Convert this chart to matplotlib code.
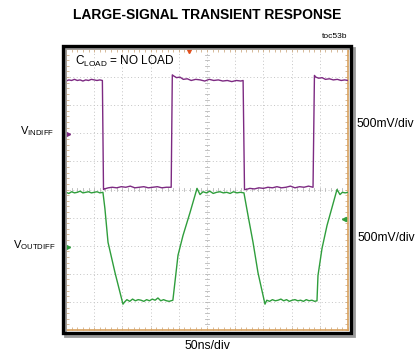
import matplotlib
matplotlib.use('Agg')
import matplotlib.pyplot as plt
from matplotlib.patches import Rectangle
import numpy as np

OUTPUT_IMAGE = 'out.png'
PLOT_TITLE = 'LARGE-SIGNAL TRANSIENT RESPONSE'

# --- Data (time in ns, screen voltage in V, 500mV/div, 50ns/div) ---
vin_t = [0, 5, 10, 15, 20, 25, 30, 35, 40, 45, 50, 55, 60, 64.5,
         66.5,
         68, 75, 82, 90, 98, 106, 114, 122, 130, 138, 146, 154, 162, 170, 178, 186.5,
         188.5,
         191, 196, 202, 208, 215, 222, 230, 238, 246, 254, 262, 270, 278, 286, 294, 302, 310, 314,
         316.5,
         319, 326, 334, 342, 350, 358, 366, 374, 382, 390, 398, 406, 414, 422, 430, 438,
         440.5,
         443, 448, 454, 460, 467, 474, 481, 488, 494, 500]
vin_v = [1.93, 1.95, 1.94, 1.96, 1.94, 1.95, 1.93, 1.95, 1.94, 1.96, 1.95, 1.94, 1.95, 1.94,
         0.0,
         0.01, 0.03, 0.04, 0.03, 0.05, 0.04, 0.06, 0.03, 0.04, 0.05, 0.03, 0.04, 0.05, 0.03, 0.04, 0.04,
         2.04,
         2.02, 1.99, 2.0, 1.96, 1.97, 1.94, 1.96, 1.95, 1.93, 1.96, 1.94, 1.95, 1.93, 1.94, 1.92, 1.94, 1.93, 1.94,
         0.0,
         0.0, 0.02, 0.01, 0.03, 0.02, 0.04, 0.03, 0.05, 0.03, 0.04, 0.06, 0.03, 0.05, 0.04, 0.06, 0.04,
         2.03,
         2.0, 1.98, 1.99, 1.96, 1.97, 1.95, 1.96, 1.94, 1.95, 1.94]

vout_t = [0, 5, 10, 15, 20, 25, 30, 35, 40, 45, 50, 55, 60, 65.5,
          69, 74.5, 86.9, 101,
          104, 108, 113, 118, 123, 128, 133, 138, 143, 148, 153, 158, 163, 168, 173, 178, 183, 189.5,
          198.6, 207.4, 219.9, 232.3,
          237.6, 243, 249, 255, 261, 267, 273, 279, 285, 291, 297, 303, 309, 315.5,
          322.7, 331.6, 340.4, 352.8,
          356, 361, 366, 371, 376, 381, 386, 391, 396, 401, 406, 411, 416, 421, 426, 431, 436, 441, 445,
          446.8, 453.9, 462.8, 480.5,
          485.8, 490, 495, 500]
vout_v = [-0.05, -0.07, -0.04, -0.06, -0.05, -0.03, -0.06, -0.05, -0.04, -0.06, -0.05, -0.04, -0.06, -0.05,
          -0.34, -0.94, -1.48, -2.04,
          -2.0, -1.96, -1.99, -1.95, -1.98, -1.96, -1.97, -1.99, -1.96, -1.98, -1.95, -1.97, -1.93, -1.98, -1.96, -1.98, -1.99, -1.97,
          -1.17, -0.82, -0.41, 0.02,
          -0.09, -0.04, -0.06, -0.03, -0.07, -0.05, -0.04, -0.06, -0.05, -0.07, -0.04, -0.06, -0.05, -0.06,
          -0.46, -0.94, -1.48, -2.04,
          -1.97, -1.99, -1.96, -1.98, -1.97, -1.95, -1.98, -1.96, -1.99, -1.97, -1.96, -1.98, -1.97, -1.99, -1.96, -1.98, -1.97, -1.99, -1.98,
          -1.53, -1.05, -0.64, 0.0,
          -0.09, -0.05, -0.06, -0.05]

# channel ground markers and trigger position
vin_marker = 0.98
vout_marker = -1.03
vout_marker_right = -0.52
trigger_t = 218

PURPLE = '#7d2a82'
GREEN = '#2f9e3c'
FRAME = '#d8a15e'

plt.rcParams['font.family'] = ['Liberation Sans Narrow', 'Liberation Sans', 'DejaVu Sans']
plt.rcParams['mathtext.fontset'] = 'custom'
plt.rcParams['mathtext.rm'] = 'Liberation Sans'

fig = plt.figure(figsize=(4.15, 3.56), dpi=100)
W, H = 415, 356
# plot area in pixels: x 66..348, y 49..330
ax = fig.add_axes([66 / W, 1 - 330 / H, 282 / W, 281 / H])

ax.set_xlim(0, 500)
ax.set_ylim(-2.5, 2.5)

# --- Grid (10 x 10 divisions) ---
for xv in np.arange(50, 500, 50):
    ax.axvline(xv, color='#c4c4c4', lw=0.7, ls=(0, (1, 2.5)), zorder=1)
for yv in np.arange(-2.0, 2.5, 0.5):
    ax.axhline(yv, color='#c4c4c4', lw=0.7, ls=(0, (1, 2.5)), zorder=1)
# minor ticks on the center cross
for xv in np.arange(0, 500, 10):
    ax.plot([xv, xv], [-0.03, 0.03], color='#b8b8b8', lw=0.6, zorder=1)
for yv in np.arange(-2.5, 2.5, 0.1):
    ax.plot([247, 253], [yv, yv], color='#b8b8b8', lw=0.6, zorder=1)

# --- Traces ---
ax.plot(vin_t, vin_v, color=PURPLE, lw=1.0, zorder=3)
ax.plot(vout_t, vout_v, color=GREEN, lw=1.0, zorder=3)

ax.plot([3], [vin_marker], marker='>', ms=3, color=PURPLE, zorder=4)
ax.plot([3], [vout_marker], marker='>', ms=3, color=GREEN, zorder=4)
ax.plot([493], [vout_marker_right], marker='<', ms=3, color=GREEN, zorder=4)
ax.plot([trigger_t], [2.47], marker='v', ms=3, color='#e0501e', zorder=4)

for s in ax.spines.values():
    s.set_color(FRAME)
    s.set_linewidth(1.2)
ax.set_xticks(np.arange(0, 501, 10))
ax.set_yticks(np.arange(-2.5, 2.51, 0.1))
ax.tick_params(direction='in', length=2, width=0.5, colors='#c8a070',
               labelbottom=False, labelleft=False, top=True, right=True)

# --- Black frame with shadow ---
fig.patches.append(Rectangle((65 / W, 1 - 336 / H), 289 / W, 288 / H,
                             transform=fig.transFigure, fill=False,
                             ec='#9a9a9a', lw=2.0, zorder=0))
fig.patches.append(Rectangle((63 / W, 1 - 333 / H), 288 / W, 287 / H,
                             transform=fig.transFigure, fill=False,
                             ec='black', lw=2.4, zorder=5))

# --- Labels ---
fig.text(207 / W, 1 - 15 / H, PLOT_TITLE, ha='center', va='center',
         fontsize=10, fontweight='bold')
fig.text(347 / W, 1 - 37 / H, 'toc53b', ha='right', va='center', fontsize=6)
fig.text(75 / W, 1 - 61 / H, r'C$_{\mathrm{LOAD}}$ = NO LOAD', ha='left', va='center', fontsize=8.5)
fig.text(20 / W, 1 - 131 / H, r'V$_{\mathrm{INDIFF}}$', ha='left', va='center', fontsize=8)
fig.text(13 / W, 1 - 245 / H, r'V$_{\mathrm{OUTDIFF}}$', ha='left', va='center', fontsize=8)
fig.text(356 / W, 1 - 124 / H, '500mV/div', ha='left', va='center', fontsize=8.7)
fig.text(357 / W, 1 - 238 / H, '500mV/div', ha='left', va='center', fontsize=8.7)
fig.text(207 / W, 1 - 346 / H, '50ns/div', ha='center', va='center', fontsize=8.8)

plt.savefig(OUTPUT_IMAGE, dpi=100)
print(f"Plot saved as {OUTPUT_IMAGE}")
